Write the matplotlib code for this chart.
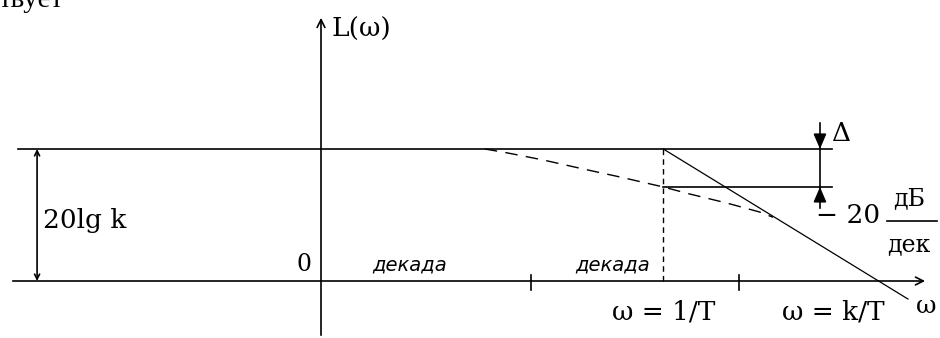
import matplotlib.pyplot as plt
from matplotlib.patches import FancyArrowPatch

# ЛАЧХ апериодического звена: асимптоты и точная характеристика
# по оси x — lg ω в декадах, по оси y — L(ω), дБ
L0 = 20.5            # 20 lg k
w_break = 1.63       # ω = 1/T
w_cross = 2.655      # ω = k/T
w_end = 2.795
slope = -20          # дБ/дек
delta_level = 14.6   # уровень L0 - Δ
decade_ticks = [1.0, 1.99]

# точная характеристика (штриховая)
exact_x = [0.78, 0.886, 1.057, 1.248, 1.424, 1.63, 1.757, 1.933, 2.09, 2.152]
exact_y = [20.5, 19.9, 18.8, 17.4, 16.15, 14.6, 13.5, 12.1, 10.7, 9.9]

serif = "DejaVu Serif"

fig = plt.figure(figsize=(9.4, 3.38), dpi=100)
ax = fig.add_axes([0, 0, 1, 1])
ax.set_xlim(-321 / 210, 619 / 210)
ax.set_ylim(-57 / 6.44, 281 / 6.44)
ax.axis("off")

lw = 1.2
k = "black"

# оси
ax.annotate("", xy=(2.89, 0), xytext=(-1.481, 0),
            arrowprops=dict(arrowstyle="->", lw=lw, color=k, mutation_scale=14))
ax.annotate("", xy=(0, 41.3), xytext=(0, -8.85),
            arrowprops=dict(arrowstyle="->", lw=lw, color=k, mutation_scale=14))
for t in decade_ticks:
    ax.plot([t, t], [0.93, -1.4], color=k, lw=lw)

# асимптоты
ax.plot([-1.443, 2.433], [L0, L0], color=k, lw=lw)
ax.plot([w_break, w_end], [L0, L0 + slope * (w_end - w_break)], color=k, lw=0.9)
ax.plot([w_break, 2.433], [delta_level, delta_level], color=k, lw=lw)
ax.plot([w_break, w_break], [0, L0], color=k, lw=1.0, ls=(0, (4, 3)))

# точная кривая
ax.plot(exact_x, exact_y, color=k, lw=1.0, ls=(0, (9, 6)))

# размер 20 lg k
ax.add_patch(FancyArrowPatch((-1.352, 0), (-1.352, L0), arrowstyle="<->",
                             mutation_scale=9, lw=lw, color=k, shrinkA=0, shrinkB=0))

# Δ
xd = 2.376
head = "-|>,head_length=0.7,head_width=0.3"
ax.plot([xd, xd], [24.5, 11.3], color=k, lw=lw)
ax.annotate("", xy=(xd, L0), xytext=(xd, L0 + 2.0),
            arrowprops=dict(arrowstyle=head, lw=lw, color=k, mutation_scale=13,
                            shrinkA=0, shrinkB=0))
ax.annotate("", xy=(xd, delta_level), xytext=(xd, delta_level - 2.0),
            arrowprops=dict(arrowstyle=head, lw=lw, color=k, mutation_scale=13,
                            shrinkA=0, shrinkB=0))

# подписи
fs = 19
ax.text(0.052, 39.1, "L(ω)", fontsize=fs, family=serif, ha="left", va="center")
ax.text(-1.324, 9.47, "20lg k", fontsize=fs, family=serif, ha="left", va="center")
ax.text(-0.081, 2.6, "0", fontsize=fs - 2, family=serif, ha="center", va="center")
ax.text(0.424, 2.5, "декада", fontsize=14, style="italic", ha="center", va="center")
ax.text(1.39, 2.5, "декада", fontsize=14, style="italic", ha="center", va="center")
ax.text(1.633, -4.8, "ω = 1/T", fontsize=fs, family=serif, ha="center", va="center")
ax.text(2.438, -4.8, "ω = k/T", fontsize=fs, family=serif, ha="center", va="center")
ax.text(2.88, -4.0, "ω", fontsize=fs - 1, family=serif, ha="center", va="center")
ax.text(2.48, 22.9, "Δ", fontsize=fs, family=serif, ha="center", va="center")
ax.text(2.508, 10.1, "− 20", fontsize=fs, family=serif, ha="center", va="center")
ax.text(2.8, 12.8, "дБ", fontsize=17, family=serif, ha="center", va="center")
ax.plot([2.695, 2.933], [9.32, 9.32], color=k, lw=lw)
ax.text(2.8, 5.6, "дек", fontsize=17, family=serif, ha="center", va="center")

# обрывок строки текста сверху
ax.text(-0.005 - 321 / 210, 281 / 6.44 - 7 / 6.44, "твует", fontsize=21,
        family="Liberation Serif", ha="left", va="baseline")

fig.savefig("out.png", dpi=100)
